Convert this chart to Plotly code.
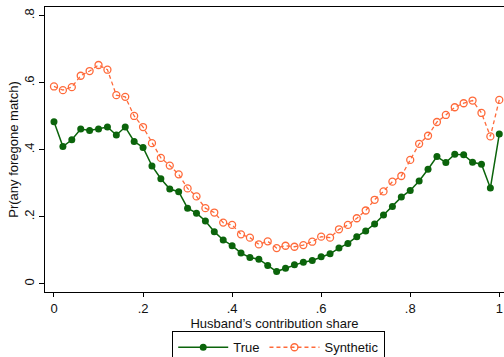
import plotly.graph_objects as go

# Husband's contribution share, 0 to 1 in steps of .02
share = [round(i * 0.02, 2) for i in range(51)]

true_vals = [0.484, 0.410, 0.430, 0.462, 0.458, 0.462, 0.468, 0.444, 0.468, 0.425,
             0.407, 0.352, 0.314, 0.283, 0.275, 0.226, 0.211, 0.188, 0.156, 0.131,
             0.114, 0.092, 0.079, 0.074, 0.055, 0.037, 0.047, 0.057, 0.065, 0.070,
             0.081, 0.090, 0.107, 0.121, 0.141, 0.158, 0.179, 0.206, 0.231, 0.259,
             0.279, 0.307, 0.342, 0.380, 0.362, 0.387, 0.385, 0.363, 0.357, 0.286,
             0.447]

synthetic_vals = [0.589, 0.578, 0.587, 0.621, 0.635, 0.653, 0.639, 0.563, 0.558, 0.501,
                  0.468, 0.420, 0.376, 0.353, 0.327, 0.285, 0.261, 0.226, 0.213, 0.183,
                  0.176, 0.148, 0.138, 0.118, 0.127, 0.107, 0.114, 0.111, 0.116, 0.126,
                  0.141, 0.138, 0.163, 0.176, 0.196, 0.219, 0.251, 0.276, 0.305, 0.322,
                  0.370, 0.418, 0.442, 0.483, 0.504, 0.527, 0.539, 0.547, 0.510, 0.440,
                  0.549]

x_ticks = [0, 0.2, 0.4, 0.6, 0.8, 1.0]
x_tick_text = ["0", ".2", ".4", ".6", ".8", "1"]
y_ticks = [0, 0.2, 0.4, 0.6, 0.8]
y_tick_text = ["0", ".2", ".4", ".6", ".8"]

GREEN = "#0b640b"
ORANGE = "#ff6a3a"
FONT = "Liberation Sans, Arial, sans-serif"

fig = go.Figure()
fig.add_trace(go.Scatter(
    x=share, y=true_vals, name="True", mode="lines+markers",
    line=dict(color=GREEN, width=1.5),
    marker=dict(color=GREEN, size=7, symbol="circle"),
))
fig.add_trace(go.Scatter(
    x=share, y=synthetic_vals, name="Synthetic", mode="lines+markers",
    line=dict(color=ORANGE, width=1.3, dash="4px,3px"),
    marker=dict(color=ORANGE, size=7, symbol="circle-open", line=dict(width=1.3)),
))

fig.update_layout(
    width=504, height=357,
    margin=dict(l=45, r=0, t=7, b=65, autoexpand=False),
    paper_bgcolor="white", plot_bgcolor="white",
    font=dict(family=FONT, size=13, color="#111"),
    showlegend=True,
    legend=dict(
        orientation="h", xref="container", yref="container",
        x=0.553, xanchor="center", y=0.072, yanchor="top",
        bordercolor="black", borderwidth=1, bgcolor="white",
        font=dict(size=13, color="#111"), itemwidth=50,
    ),
    xaxis=dict(
        range=[-0.0202, 1.0106], tickvals=x_ticks, ticktext=x_tick_text, automargin=False,
        showgrid=False, zeroline=False, showline=True, linecolor="black", linewidth=1.2,
        mirror=True, ticks="outside", ticklen=4, tickcolor="black", ticklabelstandoff=0,
        title=dict(text="Husband’s contribution share", font=dict(size=13), standoff=2),
        tickfont=dict(size=13),
    ),
    yaxis=dict(
        range=[-0.024, 0.826], tickvals=y_ticks, ticktext=y_tick_text, tickangle=-90,
        automargin=False,
        showgrid=False, zeroline=False, showline=True, linecolor="black", linewidth=1.2,
        ticks="outside", ticklen=5, tickcolor="black",
        title=dict(text="Pr(any foregone match)", font=dict(size=13), standoff=0),
        tickfont=dict(size=13),
    ),
)

fig.write_html("out.html")
